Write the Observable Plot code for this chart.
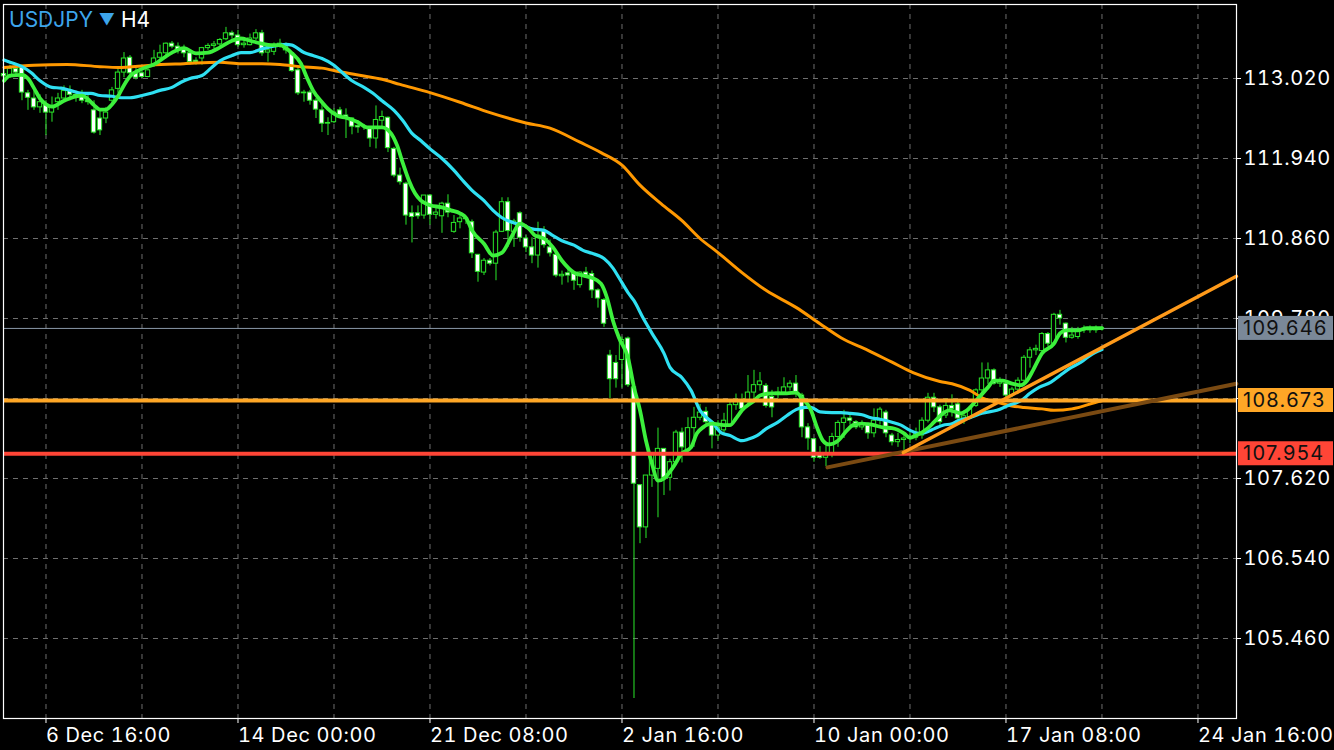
<!DOCTYPE html>
<html>
<head>
<meta charset="utf-8">
<script src="https://cdn.jsdelivr.net/npm/d3@7"></script>
<script src="https://cdn.jsdelivr.net/npm/@observablehq/plot@0.6"></script>
<style>
  html, body { margin: 0; padding: 0; background: #000; }
  #wrap { position: relative; width: 1334px; height: 750px; overflow: hidden; background: #000; }
  #title { position: absolute; left: 9px; top: 7px; font-family: Inter, "Noto Sans", sans-serif; font-size: 21px; color: #3da5ec; white-space: pre; }
  #title .tri { font-size: 16px; position: relative; top: -2px; }
  #title .tf { color: #fff; }
  svg text { letter-spacing: 0.6px; }
</style>
</head>
<body>
<div id="wrap"><div id="title"><span>USDJPY</span> <span class="tri">▼</span> <span class="tf">H4</span></div></div>
<script>
// ---- Candles (H4 bars, index 0..183) ----
const openP = [
113.08,113.05,113.15,113.17,112.82,112.75,112.63,112.66,112.56,112.70,
112.75,112.85,112.80,112.78,112.72,112.59,112.48,112.48,112.72,112.88,
113.10,113.30,113.09,113.09,113.04,113.19,113.30,113.36,113.49,113.45,
113.42,113.36,113.26,113.29,113.43,113.46,113.48,113.55,113.63,113.60,
113.47,113.47,113.56,113.63,113.37,113.38,113.46,113.40,113.36,113.13,
112.82,112.83,112.72,112.59,112.41,112.43,112.59,112.52,112.48,112.38,
112.36,112.35,112.21,112.45,112.49,112.07,111.71,111.60,111.20,111.20,
111.17,111.44,111.18,111.16,111.33,110.95,111.08,111.13,111.08,110.64,
110.40,110.56,110.52,110.95,111.35,110.95,111.20,110.86,110.74,110.63,
110.97,110.74,110.64,110.35,110.39,110.38,110.23,110.40,110.38,110.16,
110.03,109.28,109.18,109.22,109.51,108.85,107.53,106.96,107.66,107.75,
108.02,107.63,107.84,108.24,108.00,108.30,108.44,108.52,108.38,108.20,
108.27,108.34,108.61,108.67,108.65,108.78,108.88,108.87,108.72,108.75,
108.78,108.85,108.90,108.74,108.31,108.15,107.95,107.90,107.96,108.18,
108.37,108.43,108.38,108.31,108.34,108.23,108.40,108.51,108.20,108.11,
108.14,108.16,108.17,108.20,108.40,108.71,108.58,108.47,108.60,108.62,
108.43,108.45,108.60,108.81,108.97,109.08,108.90,108.90,108.74,108.82,
108.94,109.25,109.35,109.34,109.57,109.44,109.83,109.71,109.52,109.53,
109.62,109.64,109.62,109.64];
const highP = [
113.15,113.20,113.20,113.20,112.86,112.86,112.80,112.72,112.77,112.82,
112.92,112.92,112.85,112.86,112.80,112.72,112.59,112.63,112.90,113.17,
113.37,113.33,113.17,113.12,113.15,113.40,113.47,113.50,113.52,113.50,
113.47,113.36,113.30,113.44,113.49,113.52,113.56,113.71,113.66,113.67,
113.55,113.62,113.68,113.67,113.43,113.50,113.55,113.50,113.37,113.17,
112.86,112.86,112.75,112.68,112.49,112.61,112.63,112.61,112.49,112.45,
112.40,112.36,112.65,112.58,112.50,112.09,111.81,111.62,111.30,111.30,
111.44,111.45,111.28,111.35,111.45,111.17,111.17,111.16,111.11,110.64,
110.59,110.59,110.97,111.41,111.41,111.12,111.22,110.90,110.87,111.08,
111.02,110.84,110.66,110.42,110.45,110.40,110.41,110.47,110.42,110.18,
110.05,109.35,109.28,109.53,109.53,108.90,107.53,107.66,107.97,108.30,
108.02,107.88,108.27,108.30,108.44,108.58,108.62,108.58,108.40,108.40,
108.50,108.67,108.76,108.76,109.01,109.08,109.05,108.90,108.81,108.85,
108.98,108.94,109.01,108.77,108.36,108.16,108.05,108.10,108.23,108.40,
108.54,108.47,108.40,108.40,108.37,108.56,108.58,108.54,108.23,108.23,
108.23,108.25,108.30,108.44,108.77,108.77,108.61,108.70,108.75,108.66,
108.53,108.58,108.83,109.18,109.18,109.10,108.98,108.94,108.85,108.98,
109.28,109.39,109.42,109.59,109.59,109.85,109.89,109.72,109.66,109.66,
109.68,109.68,109.68,109.67];
const lowP = [
112.98,113.02,113.05,112.72,112.59,112.59,112.55,112.25,112.43,112.59,
112.70,112.72,112.70,112.68,112.66,112.27,112.25,112.41,112.68,112.82,
113.03,113.03,113.00,113.02,113.03,113.17,113.26,113.33,113.42,113.35,
113.30,113.20,113.20,113.20,113.40,113.42,113.44,113.53,113.55,113.44,
113.43,113.46,113.53,113.32,113.24,113.33,113.43,113.35,113.10,112.79,
112.70,112.66,112.48,112.29,112.25,112.41,112.49,112.21,112.26,112.28,
112.32,112.09,112.07,112.35,112.02,111.68,111.58,111.04,110.80,111.12,
111.12,111.04,111.12,110.93,111.14,110.93,110.99,111.05,110.59,110.27,
110.36,110.49,110.29,110.94,110.74,110.74,110.81,110.67,110.52,110.46,
110.73,110.61,110.33,110.23,110.26,110.16,110.19,110.32,110.05,109.92,
109.66,108.70,108.84,108.84,108.85,104.65,106.74,106.81,107.50,107.09,
107.39,107.45,107.80,107.83,107.97,108.04,108.40,108.34,108.02,108.12,
108.23,108.32,108.54,108.54,108.58,108.63,108.80,108.57,108.44,108.70,
108.74,108.80,108.71,108.17,108.00,107.84,107.88,107.78,107.90,108.04,
108.16,108.34,108.28,108.27,108.15,108.17,108.34,108.17,108.06,108.04,
107.97,108.09,108.13,108.15,108.37,108.51,108.33,108.43,108.45,108.36,
108.35,108.43,108.58,108.71,108.89,108.88,108.85,108.67,108.71,108.76,
108.90,109.11,109.28,109.31,109.40,109.41,109.69,109.45,109.50,109.50,
109.58,109.58,109.58,109.61];
const closeP = [
113.05,113.15,113.10,112.83,112.76,112.63,112.70,112.56,112.63,112.75,
112.85,112.80,112.78,112.72,112.70,112.29,112.32,112.56,112.86,113.10,
113.29,113.09,113.03,113.04,113.13,113.29,113.36,113.49,113.45,113.40,
113.36,113.24,113.24,113.43,113.46,113.48,113.54,113.63,113.60,113.47,
113.49,113.56,113.63,113.36,113.40,113.46,113.49,113.46,113.12,112.82,
112.83,112.72,112.60,112.41,112.42,112.56,112.52,112.48,112.37,112.36,
112.36,112.21,112.46,112.50,112.08,111.71,111.62,111.17,111.15,111.16,
111.44,111.18,111.21,111.33,111.21,111.07,111.13,111.12,110.66,110.41,
110.56,110.52,110.94,111.35,110.96,111.09,110.87,110.74,110.63,110.90,
110.77,110.66,110.36,110.37,110.36,110.29,110.40,110.36,110.16,110.05,
109.71,108.96,108.96,109.49,108.88,107.55,106.96,107.66,107.96,108.02,
107.63,107.84,108.24,108.04,108.30,108.44,108.51,108.38,108.20,108.30,
108.40,108.61,108.67,108.56,108.78,108.88,108.93,108.60,108.58,108.78,
108.85,108.90,108.76,108.31,108.16,107.90,107.90,107.96,108.18,108.37,
108.43,108.40,108.31,108.36,108.23,108.40,108.55,108.23,108.11,108.14,
108.16,108.17,108.23,108.40,108.71,108.58,108.38,108.60,108.56,108.43,
108.46,108.56,108.81,108.97,109.08,108.90,108.94,108.74,108.82,108.94,
109.25,109.35,109.37,109.57,109.44,109.83,109.78,109.52,109.55,109.62,
109.64,109.62,109.64,109.646];

// ---- Moving averages (bar index, price) ----
const fastMaK = [0,1,3,4,5,6,7,8,10,12,13,14,15,16,17,18,19,20,21,23,25,27,28,30,32,34,36,38,39.5,41,43,44.5,46,47,48,49.5,50.5,51.5,53,54,55.5,57,59,60.5,62,63,64.5,65.5,66.5,67.5,68.5,69.5,71,73,74.5,76,77,78,80,81.5,83,84.5,86,87.5,88.5,90,91.5,93,95,96.5,98,99.5,100.5,101.5,102.5,104,105,106,107,108,109,110,111.5,113,114.5,115.5,116.5,118,120,121,122,123,125,126,128,130.5,132,133,134.5,135.5,136.5,137.5,139,140.5,141.5,143,145,146.5,148,150,151,152,154,155,156.5,157.5,159.5,160.5,162,164,165,166.5,168,169.5,170.5,171.5,173,175,176,177,179,180.5,183];
const fastMaV = [112.99,113.06,113.07,113.02,112.89,112.75,112.67,112.64,112.72,112.78,112.79,112.74,112.66,112.60,112.60,112.67,112.78,112.93,113.05,113.15,113.21,113.32,113.37,113.43,113.36,113.37,113.44,113.53,113.56,113.53,113.49,113.47,113.47,113.43,113.36,113.22,113.03,112.86,112.70,112.61,112.52,112.49,112.43,112.36,112.36,112.36,112.28,112.12,111.87,111.64,111.47,111.37,111.31,111.28,111.24,111.20,111.14,110.97,110.79,110.63,110.67,110.87,111.06,110.99,110.90,110.86,110.74,110.56,110.40,110.36,110.33,110.25,110.06,109.75,109.52,109.25,108.85,108.54,108.13,107.82,107.59,107.62,107.77,107.96,108.04,108.23,108.31,108.36,108.34,108.34,108.43,108.54,108.67,108.74,108.77,108.77,108.78,108.71,108.54,108.31,108.13,108.08,108.13,108.27,108.34,108.36,108.34,108.31,108.30,108.23,108.17,108.20,108.30,108.38,108.50,108.54,108.50,108.54,108.67,108.85,108.94,108.94,108.90,108.88,108.94,109.08,109.31,109.44,109.58,109.62,109.62,109.65,109.65];

const midMaK = [0,1,3,4.5,6,8,9.5,11,13,14.5,16,18,19.5,21,23,24.5,26,28,29.5,31,33,34.5,36,38,39.5,41,43,44.5,46,47,48,50,51.5,53,55,56.5,58,60,61.5,63,65,66.5,68,69.5,71,73,75,76.5,78,80,81.5,83,85,86.5,88,90,91.5,93,95,96.5,98,100,101.5,102.5,104,105,106.5,108,110,111,113,114.5,116,118,119.5,121,123,124,125.5,127,129,130.5,132,133.5,134.5,136,138,139.5,141,143,144.5,146,148,149.5,151,152.5,153.5,155,156.5,158,159,161,163,165.5,167.5,169.5,171,172.5,174.5,176,177.5,179.5,181,183];
const midMaV = [113.27,113.24,113.18,113.10,112.99,112.90,112.89,112.86,112.82,112.82,112.79,112.78,112.76,112.76,112.79,112.82,112.86,112.90,112.97,113.02,113.06,113.16,113.26,113.33,113.37,113.37,113.42,113.45,113.47,113.48,113.47,113.37,113.33,113.29,113.20,113.09,112.99,112.90,112.82,112.72,112.59,112.45,112.28,112.18,112.07,111.94,111.78,111.64,111.51,111.37,111.24,111.14,111.07,111.04,110.99,110.97,110.90,110.83,110.77,110.70,110.66,110.59,110.46,110.33,110.13,110.02,109.79,109.58,109.31,109.12,108.98,108.81,108.54,108.38,108.24,108.20,108.13,108.15,108.20,108.29,108.38,108.47,108.55,108.58,108.58,108.52,108.51,108.51,108.50,108.48,108.44,108.42,108.38,108.34,108.27,108.23,108.24,108.29,108.34,108.36,108.40,108.44,108.50,108.54,108.61,108.67,108.77,108.85,108.92,109.01,109.10,109.19,109.28,109.36];

const slowMaK = [0,5,10.5,16,19,24.5,30,36,39.5,43,46,49.5,53,56,59.5,63,66,71,76,81,87,91,96,99.5,103,106,109.5,113,116,119,123,127,132,136,139.5,144,148,151.5,156,158,161,163,165.5,168,170,173,175,178,180,182,183];
const slowMaV = [113.17,113.20,113.21,113.18,113.17,113.20,113.22,113.24,113.22,113.22,113.21,113.18,113.16,113.11,113.06,113.01,112.94,112.83,112.70,112.56,112.42,112.35,112.16,112.02,111.85,111.58,111.33,111.10,110.86,110.67,110.40,110.16,109.93,109.71,109.52,109.35,109.19,109.05,108.93,108.90,108.81,108.71,108.65,108.60,108.58,108.56,108.54,108.56,108.60,108.65,108.67];

// ---- Drawn objects ----
const currentPrice = 109.646;
const levelPrices = [108.673, 107.954];
const levelColors = ["#ffa726", "#ff4536"];
const trendUpK = [149.9, 205.4];
const trendUpP = [107.97, 110.35];
const trendLowK = [137.25, 205.4];
const trendLowP = [107.77, 108.90];

// ---- Axes ----
const gridPrices = [113.02, 111.94, 110.86, 109.78, 108.70, 107.62, 106.54, 105.46];
const priceLabels = [113.02, 111.94, 110.86, 109.78, 107.62, 106.54, 105.46]; // 108.700 sits under the 108.673 box
const dateTickK = [7, 39, 71, 103, 135, 167, 199];
const dateTickLabels = ["6 Dec 16:00", "14 Dec 00:00", "21 Dec 08:00", "2 Jan 16:00", "10 Jan 00:00", "17 Jan 08:00", "24 Jan 16:00"];
const gridK = [7, 23, 39, 55, 71, 87, 103, 119, 135, 151, 167, 183, 199];

const candles = openP.map((o, i) => ({k: i, o, h: highP[i], l: lowP[i], c: closeP[i]}));
const pts = (ks, vs) => ks.map((k, i) => ({k, v: vs[i]}));

const candleGreen = "#29e829";
const chart = Plot.plot({
  width: 1334,
  height: 750,
  marginLeft: 3,
  marginRight: 98,
  marginTop: 4,
  marginBottom: 32,
  style: {background: "#000", color: "#fff", fontFamily: "Inter, 'Noto Sans', sans-serif", fontSize: "20px"},
  x: {domain: [-0.083, 205.42], label: null},
  y: {domain: [104.38, 114.019], label: null},
  marks: [
    Plot.gridX(gridK, {stroke: "#6e6e6e", strokeOpacity: 1, strokeDasharray: "5,5"}),
    Plot.gridY(gridPrices, {stroke: "#6e6e6e", strokeOpacity: 1, strokeDasharray: "5,5"}),
    Plot.ruleY([currentPrice], {stroke: "#8a98a8", strokeWidth: 1}),
    Plot.ruleX(candles, {x: "k", y1: "l", y2: "h", stroke: candleGreen, strokeWidth: 1}),
    Plot.rect(candles, {x1: d => d.k - 0.36, x2: d => d.k + 0.36, y1: "o", y2: "c",
      fill: d => d.c < d.o ? "#fff" : "#000", stroke: candleGreen, strokeWidth: 1}),
    Plot.line(pts(slowMaK, slowMaV), {x: "k", y: "v", stroke: "#ff9800", strokeWidth: 3, curve: "monotone-x"}),
    Plot.line(pts(midMaK, midMaV), {x: "k", y: "v", stroke: "#2fe0f2", strokeWidth: 3.2, curve: "monotone-x"}),
    Plot.line(pts(fastMaK, fastMaV), {x: "k", y: "v", stroke: "#3cf03c", strokeWidth: 3.8, curve: "monotone-x"}),
    Plot.ruleY(levelPrices, {stroke: (d, i) => levelColors[i], strokeWidth: 4}),
    Plot.line(pts(trendLowK, trendLowP), {x: "k", y: "v", stroke: "#7a4a12", strokeWidth: 4}),
    Plot.line(pts(trendUpK, trendUpP), {x: "k", y: "v", stroke: "#ff9a1a", strokeWidth: 3.5}),
    Plot.frame({stroke: "#fff", strokeWidth: 1.2}),
    Plot.axisY(gridPrices, {anchor: "right", tickFormat: () => "", tickSize: 4, label: null}),
    Plot.axisY(priceLabels, {anchor: "right", tickFormat: d3.format(".3f"), tickSize: 0, tickPadding: 7, fontSize: 20, label: null}),
    Plot.axisX(dateTickK, {anchor: "bottom", tickFormat: (d, i) => dateTickLabels[i], textAnchor: "start", tickSize: 5, tickPadding: 4, dx: 0, fontSize: 20, label: null})
  ]
});

// value boxes on the price axis, positioned through the y scale
const yS = chart.scale("y");
const boxes = [
  {v: currentPrice, fill: "#7a8898"},
  {v: levelPrices[0], fill: levelColors[0]},
  {v: levelPrices[1], fill: levelColors[1]}
];
const g = d3.select(chart).append("g").attr("text-anchor", "start");
for (const b of boxes) {
  const yy = yS.apply(b.v);
  g.append("rect").attr("x", 1238).attr("y", yy - 12).attr("width", 95).attr("height", 24).attr("fill", b.fill);
  g.append("text").attr("x", 1243).attr("y", yy).attr("dy", "0.36em").attr("text-anchor", "start")
    .attr("fill", "#111").attr("font-size", 20).style("letter-spacing", "1.3px").text(d3.format(".3f")(b.v));
}
document.getElementById("wrap").prepend(chart);
</script>
</body>
</html>
